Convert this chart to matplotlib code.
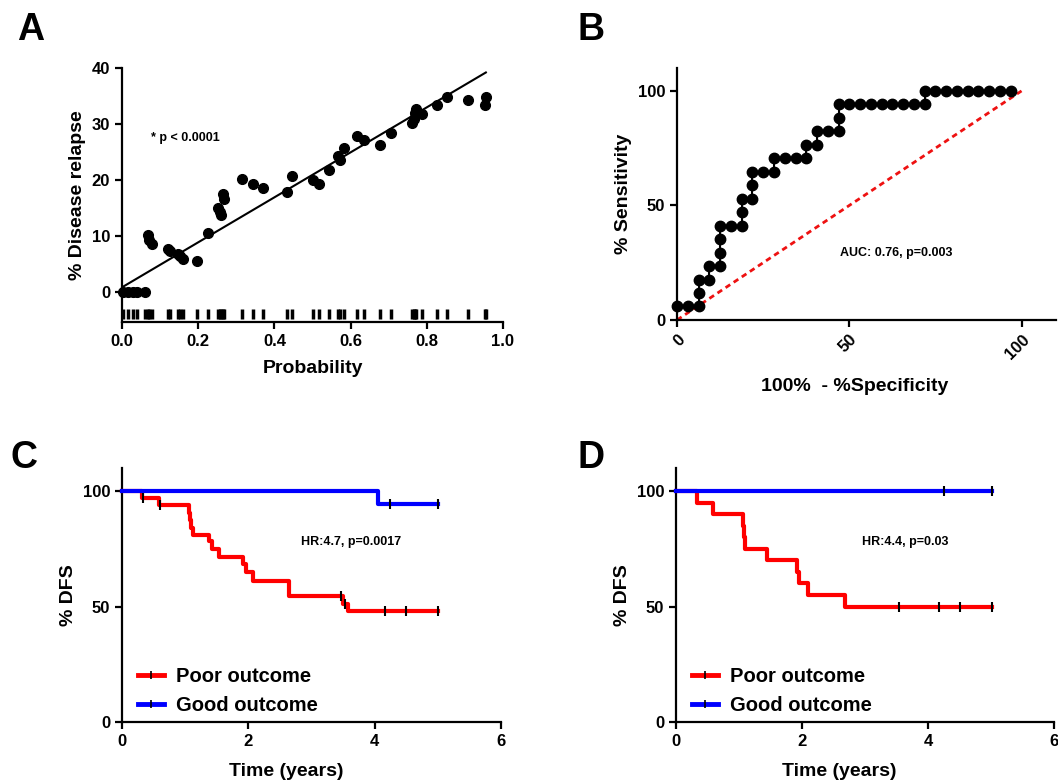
import matplotlib
matplotlib.use("Agg")
import matplotlib.pyplot as plt
import numpy as np
from matplotlib.lines import Line2D

plt.rcParams['font.family'] = ['Liberation Sans', 'DejaVu Sans']
plt.rcParams['font.weight'] = 'bold'

# panel A: predicted probability vs % disease relapse
a_prob = [0.002, 0.015, 0.028, 0.040, 0.060, 0.068, 0.072, 0.079, 0.121, 0.125,
          0.147, 0.153, 0.160, 0.196, 0.226, 0.253, 0.256, 0.259, 0.264, 0.268,
          0.315, 0.343, 0.369, 0.432, 0.445, 0.501, 0.517, 0.544, 0.568, 0.573,
          0.583, 0.618, 0.636, 0.676, 0.707, 0.762, 0.766, 0.768, 0.771, 0.788,
          0.828, 0.852, 0.907, 0.952, 0.955]
a_relapse = [0, 0, 0, 0, 0, 10.2, 9.3, 8.5, 7.7, 7.3,
             6.8, 6.4, 5.8, 5.5, 10.5, 15.0, 14.3, 13.7, 17.4, 16.6,
             20.1, 19.3, 18.5, 17.8, 20.7, 19.9, 19.3, 21.8, 24.2, 23.5,
             25.7, 27.9, 27.2, 26.3, 28.3, 30.1, 30.8, 32.0, 32.7, 31.8,
             33.3, 34.8, 34.2, 33.3, 34.9]
a_fit_x = [0.0, 0.955]
a_fit_y = [0.8, 39.2]

# panel B: ROC curve
b_fpr = [0, 3.1, 6.3, 6.3, 6.3, 9.4, 9.4, 12.5, 12.5, 12.5, 12.5, 15.6, 18.8, 18.8,
         18.8, 21.9, 21.9, 21.9, 25.0, 28.1, 28.1, 31.3, 34.4, 37.5, 37.5, 40.6,
         40.6, 43.8, 46.9, 46.9, 46.9, 50.0, 53.1, 56.3, 59.4, 62.5, 65.6, 68.8,
         71.9, 71.9, 75.0, 78.1, 81.3, 84.4, 87.5, 90.6, 93.8, 96.9]
b_tpr = [5.9, 5.9, 5.9, 11.8, 17.6, 17.6, 23.5, 23.5, 29.4, 35.3, 41.2, 41.2, 41.2,
         47.1, 52.9, 52.9, 58.8, 64.7, 64.7, 64.7, 70.6, 70.6, 70.6, 70.6, 76.5,
         76.5, 82.4, 82.4, 82.4, 88.2, 94.1, 94.1, 94.1, 94.1, 94.1, 94.1, 94.1,
         94.1, 94.1, 100, 100, 100, 100, 100, 100, 100, 100, 100]

# panel C: Kaplan-Meier, training set
c_poor_t = [0, 0.32, 0.58, 1.06, 1.08, 1.10, 1.12, 1.38, 1.43, 1.53, 1.92, 1.96,
            2.07, 2.65, 3.50, 3.57, 5.01]
c_poor_s = [100, 97.0, 93.9, 90.6, 87.3, 84.0, 80.8, 78.3, 75.0, 71.4, 68.5, 64.8,
            61.0, 54.6, 51.3, 48.2, 48.2]
c_poor_cens = [0.34, 0.60, 3.47, 3.53, 4.17, 4.50, 5.01]
c_good_t = [0, 4.06, 5.01]
c_good_s = [100, 94.3, 94.3]
c_good_cens = [4.25, 5.01]

# panel D: Kaplan-Meier, validation set
d_poor_t = [0, 0.33, 0.59, 1.06, 1.08, 1.10, 1.44, 1.92, 1.95, 2.09, 2.69, 5.01]
d_poor_s = [100, 95, 90, 85, 80, 75, 70, 65, 60, 55, 50, 50]
d_poor_cens = [3.54, 4.17, 4.51, 5.01]
d_good_t = [0, 5.01]
d_good_s = [100, 100]
d_good_cens = [4.26, 5.01]

W, H = 1058, 783


def axes_px(fig, left, top, right, bottom):
    return fig.add_axes([left / W, 1 - bottom / H, (right - left) / W, (bottom - top) / H])


def style(ax):
    for s in ['top', 'right']:
        ax.spines[s].set_visible(False)
    for s in ['left', 'bottom']:
        ax.spines[s].set_linewidth(1.6)
    ax.tick_params(direction='out', length=5, width=1.6, labelsize=12)
    for lab in ax.get_xticklabels() + ax.get_yticklabels():
        lab.set_fontweight('bold')


def surv_at(t, s, x):
    idx = np.searchsorted(t, x, side='right') - 1
    return np.array(s)[idx]


def km(ax, t, s, cens, color):
    ax.step(t, s, where='post', color=color, lw=3, clip_on=False, zorder=3)
    ax.plot(cens, surv_at(t, s, cens), ls='none', marker='|', ms=7, mew=1.5,
            color='black', clip_on=False, zorder=4)


fig = plt.figure(figsize=(W / 100, H / 100), dpi=100)

# ---- A
ax = axes_px(fig, 122, 68, 503, 322)
ax.plot(a_fit_x, a_fit_y, color='black', lw=1.5)
ax.plot(a_prob, a_relapse, 'o', color='black', ms=7, clip_on=False, zorder=3)
ax.plot(a_prob, [-4] * len(a_prob), ls='none', marker='|', ms=7, mew=2.5,
        color='black', clip_on=False)
ax.set_xlim(0, 1.0)
ax.set_ylim(-5.4, 40)
ax.set_xticks([0, 0.2, 0.4, 0.6, 0.8, 1.0])
ax.set_xticklabels(['0.0', '0.2', '0.4', '0.6', '0.8', '1.0'])
ax.set_yticks([0, 10, 20, 30, 40])
ax.set_xlabel('Probability', fontsize=14, fontweight='bold', labelpad=8)
ax.set_ylabel('% Disease relapse', fontsize=14, fontweight='bold', labelpad=4)
ax.text(0.077, 27.5, '* p < 0.0001', fontsize=9, fontweight='bold', va='center')
style(ax)

# ---- B
ax = axes_px(fig, 677, 68, 1056, 320)
ax.plot([0, 100], [0, 100], ls=(0, (2, 1.5)), color='#ee1111', lw=2, zorder=2)
ax.plot(b_fpr, b_tpr, '-o', color='black', ms=7.5, lw=1.5, clip_on=False, zorder=3)
ax.set_xlim(0, 110)
ax.set_ylim(0, 110)
ax.set_xticks([0, 50, 100])
ax.set_yticks([0, 50, 100])
ax.set_xticklabels(['0', '50', '100'], rotation=45, ha='right', rotation_mode='anchor')
ax.set_xlabel('100%  - %Specificity', fontsize=14, fontweight='bold')
ax.xaxis.set_label_coords(0.47, -0.23)
ax.set_ylabel('% Sensitivity', fontsize=14, fontweight='bold', labelpad=4)
ax.text(47.3, 29.3, 'AUC: 0.76, p=0.003', fontsize=9, fontweight='bold', va='center')
style(ax)

# ---- C and D
legend_handles = [
    Line2D([], [], color='red', lw=3.5, marker='|', ms=6, mew=1.2, mec='black'),
    Line2D([], [], color='blue', lw=3.5, marker='|', ms=6, mew=1.2, mec='black'),
]
for left, right, poor, good, hr, hr_x in [
        (122, 501, (c_poor_t, c_poor_s, c_poor_cens), (c_good_t, c_good_s, c_good_cens),
         'HR:4.7, p=0.0017', 2.83),
        (676, 1054, (d_poor_t, d_poor_s, d_poor_cens), (d_good_t, d_good_s, d_good_cens),
         'HR:4.4, p=0.03', 2.96)]:
    ax = axes_px(fig, left, 468, right, 722)
    km(ax, *poor, 'red')
    km(ax, *good, 'blue')
    ax.set_xlim(0, 6)
    ax.set_ylim(0, 110)
    ax.set_xticks([0, 2, 4, 6])
    ax.set_yticks([0, 50, 100])
    ax.set_xlabel('Time (years)', fontsize=14, fontweight='bold')
    ax.xaxis.set_label_coords(0.433, -0.16)
    ax.set_ylabel('% DFS', fontsize=14, fontweight='bold', labelpad=4)
    ax.text(hr_x, 78, hr, fontsize=9, fontweight='bold', va='center')
    ax.legend(legend_handles, ['Poor outcome', 'Good outcome'], loc='lower left',
              bbox_to_anchor=(-0.005, -0.045), frameon=False,
              handlelength=1.3, handletextpad=0.6, labelspacing=0.5,
              prop={'weight': 'bold', 'size': 14.5})
    style(ax)

for letter, x, y in [('A', 17, 30), ('B', 577, 30), ('C', 10, 458), ('D', 578, 458)]:
    fig.text(x / W, 1 - y / H, letter, fontsize=27, fontweight='bold', va='center')

fig.savefig('out.png', dpi=100)
